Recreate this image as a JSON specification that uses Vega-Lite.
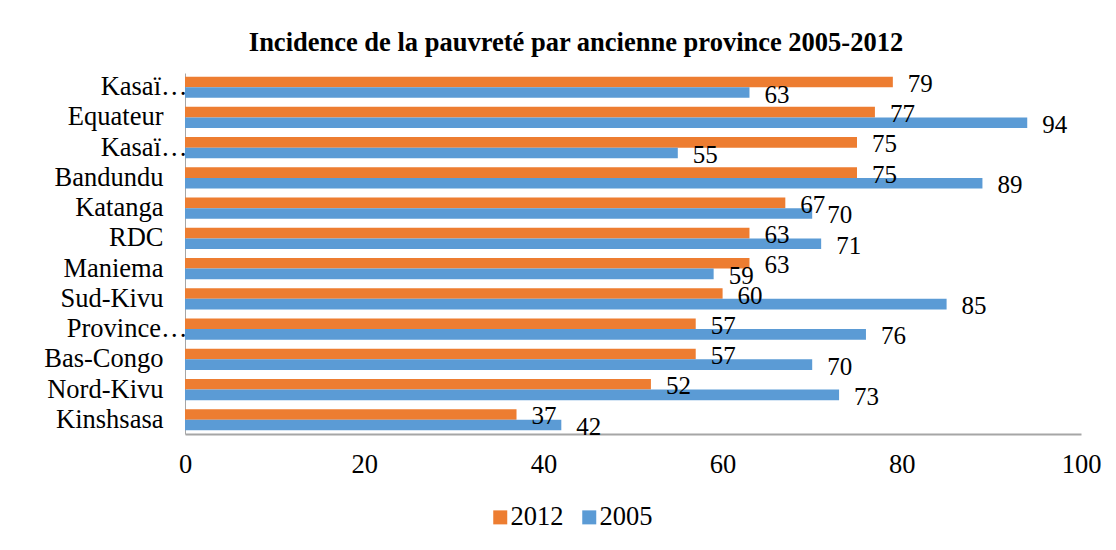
{
  "$schema": "https://vega.github.io/schema/vega-lite/v6.json",
  "width": 896,
  "height": 361,
  "autosize": {"type": "none"},
  "padding": {"left": 185, "top": 73, "right": 35, "bottom": 116},
  "background": "white",
  "config": {"view": {"stroke": null}},
  "title": {
    "text": "Incidence de la pauvreté par ancienne province 2005-2012",
    "font": "Liberation Serif",
    "fontSize": 26.5,
    "fontWeight": "bold",
    "color": "black",
    "anchor": "middle",
    "dx": -57,
    "dy": 27,
    "offset": 21,
    "baseline": "alphabetic"
  },
  "data": {
    "values": [
      {"province": "Kasaï Oriental", "annee": "2012", "valeur": 79},
      {"province": "Kasaï Oriental", "annee": "2005", "valeur": 63},
      {"province": "Equateur", "annee": "2012", "valeur": 77},
      {"province": "Equateur", "annee": "2005", "valeur": 94},
      {"province": "Kasaï Occidental", "annee": "2012", "valeur": 75},
      {"province": "Kasaï Occidental", "annee": "2005", "valeur": 55},
      {"province": "Bandundu", "annee": "2012", "valeur": 75},
      {"province": "Bandundu", "annee": "2005", "valeur": 89},
      {"province": "Katanga", "annee": "2012", "valeur": 67},
      {"province": "Katanga", "annee": "2005", "valeur": 70},
      {"province": "RDC", "annee": "2012", "valeur": 63},
      {"province": "RDC", "annee": "2005", "valeur": 71},
      {"province": "Maniema", "annee": "2012", "valeur": 63},
      {"province": "Maniema", "annee": "2005", "valeur": 59},
      {"province": "Sud-Kivu", "annee": "2012", "valeur": 60},
      {"province": "Sud-Kivu", "annee": "2005", "valeur": 85},
      {"province": "Province Orientale", "annee": "2012", "valeur": 57},
      {"province": "Province Orientale", "annee": "2005", "valeur": 76},
      {"province": "Bas-Congo", "annee": "2012", "valeur": 57},
      {"province": "Bas-Congo", "annee": "2005", "valeur": 70},
      {"province": "Nord-Kivu", "annee": "2012", "valeur": 52},
      {"province": "Nord-Kivu", "annee": "2005", "valeur": 73},
      {"province": "Kinshsasa", "annee": "2012", "valeur": 37},
      {"province": "Kinshsasa", "annee": "2005", "valeur": 42}
    ]
  },
  "encoding": {
    "y": {
      "field": "province",
      "type": "nominal",
      "sort": ["Kasaï Oriental", "Equateur", "Kasaï Occidental", "Bandundu", "Katanga", "RDC", "Maniema", "Sud-Kivu", "Province Orientale", "Bas-Congo", "Nord-Kivu", "Kinshsasa"],
      "scale": {"paddingInner": 0.3, "paddingOuter": 0.12},
      "axis": {
        "title": null,
        "ticks": false,
        "domainColor": "#a6a6a6",
        "domainWidth": 1,
        "labelFont": "Liberation Serif",
        "labelFontSize": 26.5,
        "labelColor": "black",
        "labelLimit": 300,
        "labelPadding": {"condition": {"test": "indexof(datum.value, 'Kasa') == 0 || indexof(datum.value, 'Province') == 0", "value": -2}, "value": 22},
        "labelExpr": "indexof(datum.value, 'Kasa') == 0 ? 'Kasaï…' : (datum.value == 'Province Orientale' ? 'Province…' : datum.value)"
      }
    },
    "yOffset": {"field": "annee", "type": "nominal", "sort": ["2012", "2005"]},
    "x": {
      "field": "valeur",
      "type": "quantitative",
      "scale": {"domain": [0, 100]},
      "axis": {
        "title": null,
        "values": [0, 20, 40, 60, 80, 100],
        "grid": false,
        "ticks": false,
        "domainColor": "#a6a6a6",
        "domainWidth": 2,
        "labelFont": "Liberation Serif",
        "labelFontSize": 26.5,
        "labelColor": "black",
        "labelPadding": 17,
        "labelFlush": false,
        "labelOverlap": false
      }
    }
  },
  "layer": [
    {
      "mark": {"type": "bar"},
      "encoding": {
        "color": {
          "field": "annee",
          "type": "nominal",
          "scale": {"domain": ["2012", "2005"], "range": ["#ED7D31", "#5B9BD5"]},
          "legend": {
            "title": null,
            "orient": "none",
            "direction": "horizontal",
            "legendX": 302,
            "legendY": 431,
            "symbolType": "square",
            "symbolSize": 196,
            "symbolStrokeWidth": 0,
            "labelFont": "Liberation Serif",
            "labelFontSize": 26.5,
            "labelColor": "black",
            "labelOffset": -3,
            "columnPadding": 12
          }
        }
      }
    },
    {
      "mark": {"type": "text", "align": "left", "baseline": "middle", "dx": 15, "dy": 2, "font": "Liberation Serif", "fontSize": 25, "color": "black"},
      "encoding": {"text": {"field": "valeur", "type": "quantitative"}}
    }
  ]
}
